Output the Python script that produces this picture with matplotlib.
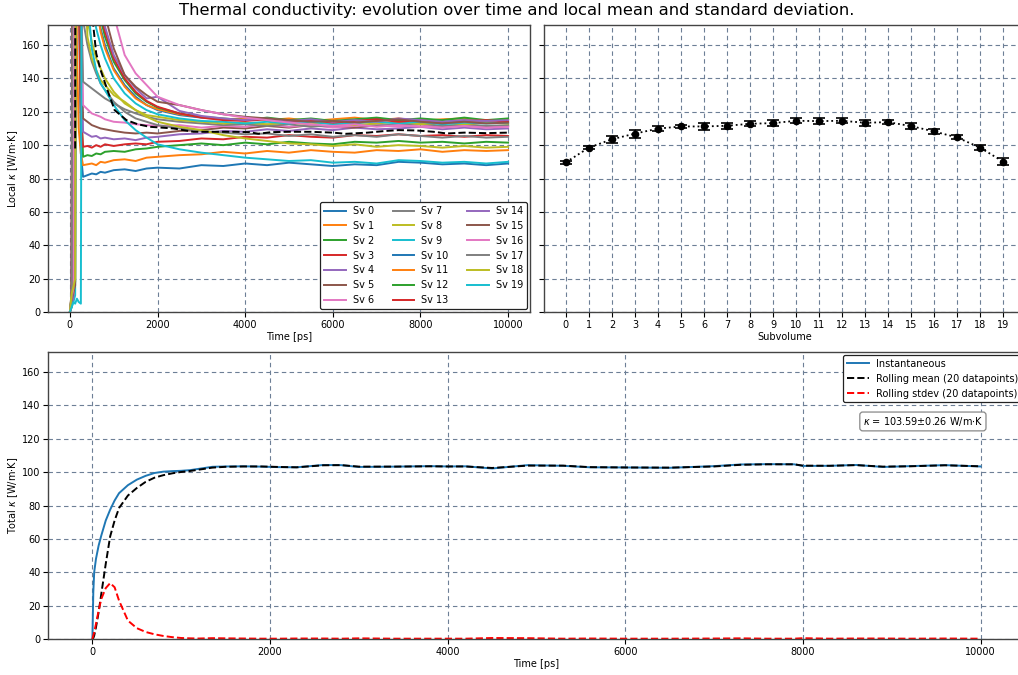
import numpy as np
import matplotlib
matplotlib.use("Agg")
import matplotlib.pyplot as plt

# ---------------- data ----------------
# time grid [ps] of the local (per-subvolume) conductivity traces
time_local = [0, 40, 80, 120, 160, 200, 250, 300, 400, 500, 600, 700, 800, 1000,
              1250, 1500, 1750, 2000, 2500, 3000, 3500, 4000, 4500, 5000, 5500,
              6000, 6500, 7000, 7500, 8000, 8500, 9000, 9500, 10000]

sv0 = [0, 4, 10, 650, 380, 210, 95, 81, 82, 83, 82.5, 84, 83.5, 85, 85.5, 84.5, 86, 86.5,
       86, 88, 87.5, 89, 88, 89.5, 88.5, 87.5, 88.5, 88, 90, 89.5, 88.5, 89, 88, 89]
sv1 = [0, 8, 520, 300, 160, 110, 95, 88, 88.5, 89, 88, 90, 89.5, 91, 91.5, 90.5, 92.5, 93,
       94, 94.5, 96, 95, 96.5, 95.5, 97, 96, 95.5, 97, 96.5, 97.5, 96, 97, 96.5, 97]
sv2 = [0, 3, 15, 480, 700, 260, 130, 93, 94, 93.5, 95, 94.5, 96, 96.5, 96, 97.5, 98, 99,
       100, 101, 100, 101.5, 100.5, 102, 101, 100.5, 102, 101.5, 102.5, 101.5, 102, 101, 102, 101.5]
sv3 = [0, 10, 300, 800, 420, 190, 120, 99, 99.5, 98.5, 100, 99, 100.5, 99.5, 100.5, 101, 100.5, 102,
       102.5, 104, 103.5, 105, 104.5, 106, 105, 104.5, 106, 105.5, 106.5, 105.5, 106, 105, 106, 105.5]
sv4 = [0, 5, 12, 250, 950, 360, 170, 108, 106.5, 105, 105.5, 104, 104.5, 103.5, 104, 103, 104.5, 105,
       106.5, 107, 108.5, 108, 109.5, 108.5, 110, 109, 110.5, 109.5, 110, 111, 109.5, 110.5, 109.5, 110]
sv5 = [0, 12, 600, 1100, 500, 240, 150, 116, 114, 112, 111, 110, 109.5, 108.5, 107.5, 107, 107.5, 107,
       108.5, 109, 110.5, 110, 111.5, 110.5, 112, 111, 110.5, 112, 111.5, 112.5, 111, 112, 111, 111.5]
sv6 = [0, 7, 9, 380, 1300, 520, 220, 124, 121.5, 119, 118, 117, 115.5, 114, 113.5, 112.5, 112, 111.5,
       112, 110.5, 111.5, 111, 112.5, 111, 112, 110.5, 111.5, 112, 111, 112.5, 111, 111.5, 110.5, 111.5]
sv7 = [0, 4, 420, 900, 600, 330, 190, 138, 136, 134, 132, 130, 128, 125, 121.5, 119, 117, 115.5,
       114, 113, 112, 112.5, 111.5, 112.5, 111, 112, 113, 111.5, 112.5, 113, 111.5, 112.5, 111.5, 112]
sv8 = [0, 9, 14, 700, 1200, 600, 300, 190, 175, 162, 152, 146, 140, 132, 125, 121, 118, 117,
       115, 114, 113, 113.5, 112.5, 113.5, 112.5, 113.5, 112, 113, 114, 112.5, 113.5, 112.5, 113.5, 113]
sv9 = [0, 3, 6, 10, 450, 1000, 480, 260, 210, 185, 170, 160, 152, 140, 131, 125, 121, 118.5,
       116, 114.5, 114, 113, 114, 113, 114, 112.5, 113.5, 114, 113, 114, 112.5, 113.5, 113, 113.5]
sv10 = [0, 10, 750, 1400, 700, 420, 320, 270, 230, 200, 182, 170, 160, 146, 136, 129, 124, 121,
        118, 116.5, 115.5, 115, 116, 114.5, 115.5, 114, 115, 116, 114.5, 115.5, 114, 115, 114.5, 115.5]
sv11 = [0, 6, 11, 550, 1500, 800, 400, 290, 235, 205, 185, 168, 158, 145, 135, 128, 124, 121.5,
        118.5, 117, 115.5, 116, 115, 116, 114.5, 115.5, 116.5, 115, 116, 114.5, 115.5, 116, 114.5, 115.5]
sv12 = [0, 8, 13, 18, 820, 1600, 700, 330, 250, 215, 192, 176, 165, 150, 139, 131, 126, 122.5,
        119, 117, 116, 115, 116.5, 115, 116, 114.5, 115.5, 116.5, 115, 116, 115, 116.5, 115, 116]
sv13 = [0, 5, 900, 1700, 900, 560, 420, 340, 260, 220, 196, 180, 168, 152, 140, 132, 126.5, 123,
        119, 116.5, 115, 114.5, 115.5, 114, 115, 113.5, 114.5, 115.5, 114, 115, 113.5, 114.5, 115, 114]
sv14 = [0, 4, 9, 1000, 1800, 850, 460, 350, 270, 228, 202, 184, 171, 154, 142, 134, 128, 129,
        120.5, 117.5, 116, 115, 116, 114.5, 115.5, 114, 115, 114, 116, 115, 114, 115, 114.5, 115]
sv15 = [0, 7, 12, 16, 1100, 1900, 900, 380, 290, 240, 212, 192, 178, 158, 142, 135, 130, 126,
        124, 121, 118.5, 117, 116, 115, 114, 114.5, 113.5, 114.5, 115.5, 114, 113, 114, 113, 113.5]
sv16 = [0, 9, 14, 650, 2000, 1100, 600, 420, 330, 280, 246, 222, 204, 178, 154, 143, 136, 129,
        124, 121, 118.5, 116.5, 115, 113.5, 112.5, 111.5, 112.5, 111, 112, 111, 110.5, 111.5, 110.5, 111]
sv17 = [0, 5, 480, 1200, 620, 350, 230, 175, 160, 150, 143, 137, 133, 126, 120, 116, 114, 112,
        110, 108.5, 107.5, 106.5, 107, 105.5, 106.5, 105, 106, 105, 106.5, 105.5, 104.5, 105.5, 104.5, 105]
sv18 = [0, 11, 15, 20, 600, 1000, 450, 230, 165, 152, 145, 139, 136, 130, 126, 121, 117, 114,
        111, 109, 106, 104, 102.5, 101, 100.5, 99.5, 100.5, 99, 100, 99.5, 98.5, 99.5, 98.5, 99]
sv19 = [0, 3, 6, 5, 8, 6, 5, 600, 190, 158, 145, 137, 133, 124, 115, 109, 104.5, 100.5,
        97.5, 95.5, 94, 92.5, 91.5, 90.5, 91, 89.5, 90, 89, 91, 90.5, 89.5, 90, 89, 90]

local_series = [sv0, sv1, sv2, sv3, sv4, sv5, sv6, sv7, sv8, sv9,
                sv10, sv11, sv12, sv13, sv14, sv15, sv16, sv17, sv18, sv19]
series_labels = [f"Sv {i}" for i in range(20)]

# running mean over all subvolumes
mean_time = [120, 125, 500, 600, 700, 830, 1020, 1290, 1550, 1820, 2360, 2820, 3300, 3740,
             4100, 4300, 4600, 5000, 5500, 6000, 6300, 6800, 7200, 7500, 7900, 8300, 8600,
             9000, 9500, 10000]
mean_local = [98, 400, 180, 155, 145, 135, 121, 115, 112.5, 111, 110, 108, 108, 108,
              107.8, 106.8, 107.8, 108, 108, 107.5, 106.8, 107.5, 108.5, 109, 108.8, 108, 107,
              107.5, 107.2, 107.5]

# time-averaged local conductivity per subvolume
subvolumes = list(range(20))
sv_mean = [89.7, 98.5, 103.5, 106.9, 109.9, 111.2, 111.2, 111.6, 112.8, 113.2,
           114.6, 114.4, 114.6, 113.4, 113.8, 111.4, 108.2, 104.6, 98.5, 90.1]
sv_std = [1.0, 1.1, 2.1, 2.4, 1.7, 1.1, 2.2, 1.8, 1.6, 1.6,
          1.4, 1.6, 1.4, 1.8, 1.4, 2.0, 1.5, 1.2, 1.6, 1.9]

# total conductivity
time_total = [0, 10, 20, 40, 70, 100, 150, 200, 250, 300, 400, 500, 600, 700, 800, 900,
              1000, 1100, 1200, 1350, 1500, 1700, 1900, 2100, 2300, 2600, 2800, 3000, 3400,
              3800, 4000, 4200, 4500, 4900, 5300, 5600, 6000, 6500, 7000, 7300, 7600, 7900,
              8000, 8300, 8600, 8900, 9200, 9600, 10000]
kappa_inst = [0, 28, 40, 48, 56, 62, 71, 77.5, 83, 87.4, 92.2, 95.5, 97.8, 99.5, 100.3, 100.6,
              100.8, 101.2, 102, 103.2, 103.4, 103.5, 103.3, 103.0, 102.9, 104.3, 104.2, 103.1, 103.3,
              103.6, 103.4, 103.5, 102.2, 104.2, 103.8, 102.9, 102.8, 102.6, 103.6, 104.6, 104.8, 104.7,
              103.7, 103.8, 104.3, 103.1, 103.6, 104.2, 103.4]
kappa_roll_mean = [0, 0.5, 2, 7, 16, 27, 45, 61.5, 71, 78.5, 86, 90.5, 94.2, 96.7, 98.2, 99.3,
                   100.1, 100.7, 101.5, 102.7, 103.2, 103.4, 103.4, 103.1, 102.9, 104.1, 104.2, 103.3, 103.3,
                   103.5, 103.4, 103.4, 102.5, 103.9, 103.9, 103.0, 102.8, 102.7, 103.4, 104.4, 104.7, 104.7,
                   103.9, 103.8, 104.2, 103.3, 103.5, 104.1, 103.5]
kappa_roll_std = [0, 2, 4, 9, 17, 24, 30.5, 33.5, 31, 23, 11, 6.5, 4.2, 2.8, 1.8, 1.1,
                  0.6, 0.4, 0.3, 0.5, 0.4, 0.3, 0.2, 0.2, 0.3, 0.3, 0.2, 0.4, 0.2,
                  0.2, 0.2, 0.2, 0.6, 0.5, 0.2, 0.3, 0.2, 0.2, 0.3, 0.4, 0.2, 0.2,
                  0.5, 0.2, 0.3, 0.3, 0.2, 0.3, 0.2]
kappa_value = 103.59
kappa_error = 0.26

# ---------------- figure ----------------
plt.rcParams['font.family'] = ['DejaVu Sans']
FS = 7
W, H = 1018, 675
fig = plt.figure(figsize=(W / 100, H / 100), dpi=100)


def px_axes(left, right, top, bottom, **kw):
    return fig.add_axes([left / W, 1 - bottom / H, (right - left) / W, (bottom - top) / H], **kw)


grid_kw = dict(linestyle=(0, (4, 3)), color='#6d7f96', linewidth=0.8)
leg_kw = dict(fontsize=FS, framealpha=1, edgecolor='#222222', handlelength=2.2,
              handletextpad=0.75, labelspacing=0.5, borderaxespad=0.3)

ax_loc = px_axes(48, 530, 25, 312)
ax_sv = px_axes(544, 1025, 25, 312, sharey=ax_loc)
ax_tot = px_axes(48, 1025, 352, 639)

# local traces
for vals, lab in zip(local_series, series_labels):
    ax_loc.plot(time_local, vals, lw=1.4, label=lab)
ax_loc.plot(mean_time, mean_local, color='k', ls='--', lw=1.4)
ax_loc.set_xlim(-500, 10500)
ax_loc.set_ylim(0, 172)
ax_loc.set_yticks(range(0, 161, 20))
ax_loc.set_xticks(range(0, 10001, 2000))
ax_loc.set_xlabel("Time [ps]", fontsize=FS, labelpad=2)
ax_loc.set_ylabel("Local $\\kappa$ [W/m$\\cdot$K]", fontsize=FS, labelpad=1)
ax_loc.grid(True, **grid_kw)
leg = ax_loc.legend(ncol=3, loc='lower right', columnspacing=1.9, **leg_kw)
leg.get_frame().set_linewidth(0.9)

# per-subvolume averages
ax_sv.errorbar(subvolumes, sv_mean, yerr=sv_std, fmt='o', color='k', ms=4.5,
               capsize=4, elinewidth=1.2, capthick=1.2, ls=':', lw=1.3)
ax_sv.set_xticks(subvolumes)
ax_sv.set_xlim(-0.95, 19.95)
ax_sv.tick_params(labelleft=False)
ax_sv.set_xlabel("Subvolume", fontsize=FS, labelpad=2)
ax_sv.grid(True, **grid_kw)

# total conductivity
ax_tot.plot(time_total, kappa_inst, color='#1f77b4', lw=1.4, label="Instantaneous")
ax_tot.plot(time_total, kappa_roll_mean, color='k', ls='--', lw=1.4,
            label="Rolling mean (20 datapoints)")
ax_tot.plot(time_total, kappa_roll_std, color='r', ls='--', lw=1.4,
            label="Rolling stdev (20 datapoints)")
ax_tot.set_xlim(-500, 10500)
ax_tot.set_ylim(0, 172)
ax_tot.set_yticks(range(0, 161, 20))
ax_tot.set_xticks(range(0, 10001, 2000))
ax_tot.set_xlabel("Time [ps]", fontsize=FS, labelpad=2)
ax_tot.set_ylabel("Total $\\kappa$ [W/m$\\cdot$K]", fontsize=FS, labelpad=1)
ax_tot.grid(True, **grid_kw)
leg2 = ax_tot.legend(loc='upper right', **leg_kw)
leg2.get_frame().set_linewidth(0.9)
ax_tot.text(0.8955, 0.758,
            f"$\\kappa$ = {kappa_value:.2f}$\\pm${kappa_error:.2f} W/m$\\cdot$K",
            transform=ax_tot.transAxes, ha='center', va='center', fontsize=FS,
            bbox=dict(boxstyle='round,pad=0.3', fc='white', ec='#888888', lw=0.9))

for ax in (ax_loc, ax_sv, ax_tot):
    ax.tick_params(labelsize=FS, length=3.5, width=0.8, pad=2)
    for sp in ax.spines.values():
        sp.set_color('#444444')
        sp.set_linewidth(1.0)

fig.text(517 / W, 1 - 10 / H,
         "Thermal conductivity: evolution over time and local mean and standard deviation.",
         ha='center', va='center', fontsize=11.8)

fig.savefig("out.png", dpi=100)
